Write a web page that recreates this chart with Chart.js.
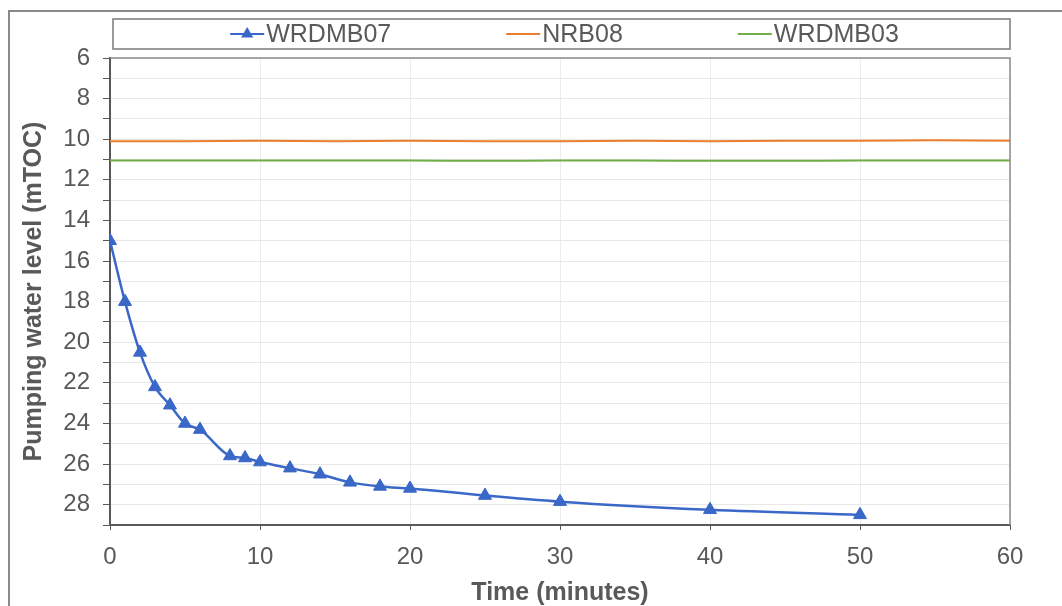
<!DOCTYPE html>
<html>
<head>
<meta charset="utf-8">
<script src="https://cdn.jsdelivr.net/npm/chart.js@4.4.0/dist/chart.umd.min.js"></script>
<style>
  html, body { margin: 0; padding: 0; background: #fff; overflow: hidden; }
  #wrap { position: relative; width: 1062px; height: 606px; }
  #frame { position: absolute; left: 8px; top: 10px; width: 1080px; height: 620px;
           border-left: 2px solid #8a8a8a; border-top: 2px solid #8a8a8a; }
  canvas { position: absolute; left: 0; top: 0; }
</style>
</head>
<body>
<div id="wrap">
  <div id="frame"></div>
  <canvas id="chart" width="1062" height="606"></canvas>
</div>
<script>
// pumping well drawdown
var timeWRDMB07 = [0, 1, 2, 3, 4, 5, 6, 8, 9, 10, 12, 14, 16, 18, 20, 25, 30, 40, 50];
var levelWRDMB07 = [15.0, 18.0, 20.5, 22.2, 23.1, 24.0, 24.3, 25.6, 25.7, 25.9, 26.2, 26.5, 26.9, 27.1, 27.2, 27.55, 27.85, 28.25, 28.5];

// observation loggers (nearly flat)
var timeLoggers = [0, 5, 10, 15, 20, 25, 30, 35, 40, 45, 50, 55, 60];
var levelNRB08 = [10.1, 10.1, 10.08, 10.1, 10.08, 10.1, 10.1, 10.08, 10.1, 10.08, 10.08, 10.05, 10.08];
var levelWRDMB03 = [11.05, 11.05, 11.05, 11.05, 11.05, 11.06, 11.05, 11.05, 11.06, 11.06, 11.05, 11.05, 11.05];

var seriesNames = ['WRDMB07', 'NRB08', 'WRDMB03'];
var xTicks = [0, 10, 20, 30, 40, 50, 60];

var FONT = '"Liberation Sans", Arial, sans-serif';
var GREY = '#595959';

function pairs(xs, ys) {
  var out = [];
  for (var i = 0; i < xs.length; i++) out.push({x: xs[i], y: ys[i]});
  return out;
}

// legend drawn in a box above the plot, like the spreadsheet one
var boxLegend = {
  id: 'boxLegend',
  afterDraw: function(chart) {
    var ctx = chart.ctx;
    var left = 113, right = 1010, top = 19, bottom = 49;
    ctx.save();
    ctx.strokeStyle = '#7a7a7a';
    ctx.lineWidth = 1.5;
    ctx.strokeRect(left, top, right - left, bottom - top);

    ctx.font = '25px ' + FONT;
    ctx.textBaseline = 'middle';
    var sample = 34, gapText = 2, gapItem = 115;
    var sets = chart.data.datasets;
    var total = 0;
    for (var i = 0; i < sets.length; i++) {
      total += sample + gapText + ctx.measureText(sets[i].label).width;
      if (i > 0) total += gapItem;
    }
    var x = (left + right) / 2 - total / 2 + 3;
    var y = (top + bottom) / 2;
    for (var j = 0; j < sets.length; j++) {
      var ds = sets[j];
      ctx.strokeStyle = ds.borderColor;
      ctx.lineWidth = 2;
      ctx.beginPath();
      ctx.moveTo(x, y);
      ctx.lineTo(x + sample, y);
      ctx.stroke();
      if (ds.pointRadius > 0) {
        var cx = x + sample / 2, r = 7;
        ctx.fillStyle = ds.borderColor;
        ctx.beginPath();
        ctx.moveTo(cx, y - r);
        ctx.lineTo(cx + r * 0.87, y + r * 0.5);
        ctx.lineTo(cx - r * 0.87, y + r * 0.5);
        ctx.closePath();
        ctx.fill();
      }
      ctx.fillStyle = GREY;
      ctx.fillText(ds.label, x + sample + gapText, y + 1);
      x += sample + gapText + ctx.measureText(ds.label).width + gapItem;
    }

    // top and right edges of the plot box
    var a = chart.chartArea;
    ctx.strokeStyle = '#8a8a8a';
    ctx.lineWidth = 1.5;
    ctx.beginPath();
    ctx.moveTo(a.left, a.top);
    ctx.lineTo(a.right, a.top);
    ctx.lineTo(a.right, a.bottom);
    ctx.stroke();
    ctx.restore();
  }
};

var chart = new Chart(document.getElementById('chart').getContext('2d'), {
  type: 'line',
  data: {
    datasets: [
      {
        label: seriesNames[0],
        data: pairs(timeWRDMB07, levelWRDMB07),
        borderColor: '#3a68c8',
        backgroundColor: '#3a68c8',
        borderWidth: 2.5,
        pointStyle: 'triangle',
        pointRadius: 7.5,
        pointBorderWidth: 1,
        cubicInterpolationMode: 'monotone',
        order: 0
      },
      {
        label: seriesNames[1],
        data: pairs(timeLoggers, levelNRB08),
        borderColor: '#ed7d31',
        borderWidth: 2,
        pointRadius: 0,
        tension: 0.3,
        order: 1
      },
      {
        label: seriesNames[2],
        data: pairs(timeLoggers, levelWRDMB03),
        borderColor: '#70ad47',
        borderWidth: 2,
        pointRadius: 0,
        tension: 0.3,
        order: 2
      }
    ]
  },
  options: {
    responsive: false,
    animation: false,
    layout: { padding: { top: 58, right: 52, left: 1, bottom: 0 } },
    plugins: {
      legend: { display: false },
      tooltip: { enabled: false }
    },
    scales: {
      x: {
        type: 'linear',
        min: 0,
        max: 60,
        afterFit: function(s) { s.height = 81; },
        afterBuildTicks: function(s) { s.ticks = xTicks.map(function(v) { return {value: v}; }); },
        ticks: {
          font: { family: FONT, size: 24 },
          color: GREY,
          padding: 13,
          maxRotation: 0
        },
        grid: {
          color: '#ececec',
          tickColor: GREY,
          tickLength: 5,
          lineWidth: 1
        },
        border: { color: GREY, width: 2 },
        title: {
          display: true,
          text: 'Time (minutes)',
          font: { family: FONT, size: 25, weight: 'bold', lineHeight: 1 },
          color: GREY,
          padding: { top: 0, bottom: 0 }
        }
      },
      y: {
        reverse: true,
        min: 6,
        max: 29,
        afterFit: function(s) { s.width = 109; },
        ticks: {
          stepSize: 1,
          autoSkip: false,
          font: { family: FONT, size: 24 },
          color: GREY,
          padding: 13,
          callback: function(v) { return v % 2 === 0 ? v : ''; }
        },
        grid: {
          color: '#e8e8e8',
          tickColor: GREY,
          tickLength: 7,
          lineWidth: 1
        },
        border: { color: GREY, width: 2 },
        title: {
          display: true,
          text: 'Pumping water level (mTOC)',
          font: { family: FONT, size: 25, weight: 'bold' },
          color: GREY,
          padding: { top: 18, bottom: 0 }
        }
      }
    }
  },
  plugins: [boxLegend]
});
</script>
</body>
</html>
